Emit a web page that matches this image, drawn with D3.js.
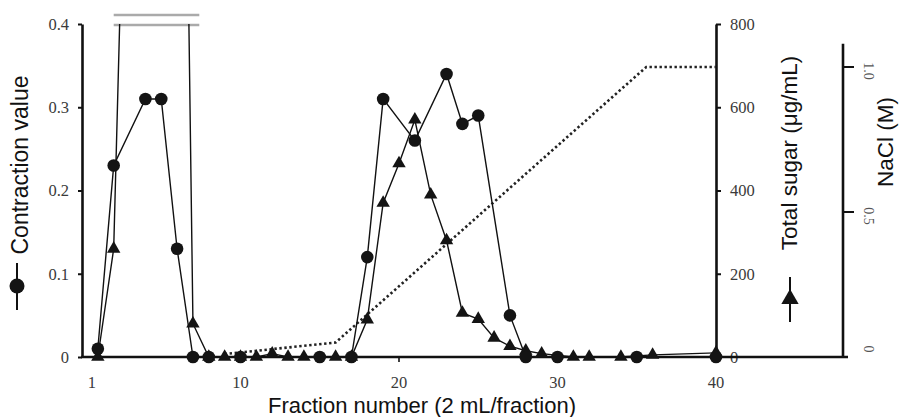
<!DOCTYPE html>
<html>
<head>
<meta charset="utf-8">
<script src="https://cdn.jsdelivr.net/npm/d3@7"></script>
<style>
  html, body { margin: 0; padding: 0; background: #fff; }
  svg { display: block; }
  svg .serif, svg .serif text { font-family: "Liberation Serif", "Times New Roman", "DejaVu Serif", serif !important; }
  svg .sans { font-family: "Liberation Sans", Arial, sans-serif; }
</style>
</head>
<body>
<svg id="chart" width="899" height="417"></svg>
<script>
// Contraction activity of each fraction (filled circles)
const contractionFractions = [1, 2, 4, 5, 6, 7, 8, 10, 15, 17, 18, 19, 21, 23, 24, 25, 27, 28, 30, 35, 40];
const contractionValues    = [0.01, 0.23, 0.31, 0.31, 0.13, 0, 0, 0, 0, 0, 0.12, 0.31, 0.26, 0.34, 0.28, 0.29, 0.05, 0, 0, 0, 0];

// Total sugar of each fraction, µg/mL (filled triangles); fractions 3–6 run off the top of the scale
const sugarFractions = [1, 2, 3, 4, 5, 6, 7, 8, 9, 10, 11, 12, 13, 14, 16, 17, 18, 19, 20, 21, 22, 23, 24, 25, 26, 27, 28, 29, 31, 32, 34, 36, 40];
const sugarValues    = [0, 260, 1700, 2600, 3000, 2900, 80, 0, 0, 0, 0, 8, 0, 0, 0, 0, 90, 370, 465, 570, 390, 280, 106, 91, 46, 26, 15, 8, 0, 0, 0, 5, 10];

// NaCl elution gradient, M (dotted line)
const naclFractions = [9, 16, 35.6, 40];
const naclValues    = [0.01, 0.05, 1.0, 1.0];

// Axis ticks
const xTickValues = [1, 10, 20, 30, 40];
const contractionTicks = [0, 0.1, 0.2, 0.3, 0.4];
const sugarTicks = [0, 200, 400, 600, 800];
const naclTicks = [0, 0.5, 1.0];

// Fractions spanned by the off-scale marker above the first peak
const offScaleRange = [2, 7.4];

const svg = d3.select("#chart");

const x = d3.scaleLinear().domain([0, 40]).range([82, 716]);
const yC = d3.scaleLinear().domain([0, 0.4]).range([357, 24]);
const yS = d3.scaleLinear().domain([0, 800]).range([357, 24]);
const yN = d3.scaleLinear().domain([0, 1.0]).range([357, 67]);

const contraction = contractionFractions.map((f, i) => ({ f, v: contractionValues[i] }));
const sugar = sugarFractions.map((f, i) => ({ f, v: sugarValues[i] }));
const nacl = naclFractions.map((f, i) => ({ f, v: naclValues[i] }));

// Clip the data to the plotting area (values above 0.4 / 800 are cut at the top)
svg.append("defs").append("clipPath").attr("id", "plot-clip")
  .append("rect")
  .attr("x", x(0) - 10).attr("y", yS(800))
  .attr("width", x(40) - x(0) + 20).attr("height", yS(0) - yS(800) + 20);

// ---- Axes ----
const axisStroke = "#111";
const tickFill = "#3a3a3a";

// Left axis: contraction value
const gLeft = svg.append("g").attr("transform", `translate(${x(0)},0)`)
  .call(d3.axisLeft(yC).tickValues(contractionTicks)
    .tickFormat(d => d === 0 ? "0" : d3.format(".1f")(d))
    .tickSize(4).tickSizeOuter(0).tickPadding(9))
  .attr("font-family", null).attr("class", "serif").attr("font-size", 16.5);
gLeft.select(".domain").attr("stroke", axisStroke).attr("stroke-width", 2.6);
gLeft.selectAll(".tick line").attr("stroke", axisStroke).attr("stroke-width", 2);
gLeft.selectAll(".tick text").attr("fill", tickFill);

// Right axis: total sugar
const gRight = svg.append("g").attr("transform", `translate(${x(40)},0)`)
  .call(d3.axisRight(yS).tickValues(sugarTicks)
    .tickSize(5).tickSizeOuter(0).tickPadding(9))
  .attr("font-family", null).attr("class", "serif").attr("font-size", 16.5);
gRight.select(".domain").attr("stroke", axisStroke).attr("stroke-width", 2.6);
gRight.selectAll(".tick line").attr("stroke", axisStroke).attr("stroke-width", 2);
gRight.selectAll(".tick text").attr("fill", tickFill);

// Far-right axis: NaCl concentration, extended slightly above 1.0
const naclX = 843;
const gNacl = svg.append("g").attr("transform", `translate(${naclX},0)`)
  .attr("class", "serif");
gNacl.append("line")
  .attr("x1", 0).attr("x2", 0)
  .attr("y1", yN(1.08)).attr("y2", yN(0) + 1)
  .attr("stroke", axisStroke).attr("stroke-width", 2.6);
const naclTick = gNacl.selectAll("g.tick").data(naclTicks).enter().append("g")
  .attr("transform", d => `translate(0,${yN(d)})`);
naclTick.filter(d => d > 0).append("line")
  .attr("x1", 0).attr("x2", 11)
  .attr("stroke", axisStroke).attr("stroke-width", 2);
naclTick.append("text")
  .attr("transform", d => `translate(21,${d === 0 ? -8 : 4}) rotate(90)`)
  .attr("text-anchor", "middle")
  .attr("font-size", 14)
  .attr("fill", "#555")
  .text(d => d === 0 ? "0" : d3.format(".1f")(d));

// Bottom axis: fraction number, running across to the NaCl axis
const gBottom = svg.append("g").attr("class", "serif");
gBottom.append("line")
  .attr("x1", x(0) - 1).attr("x2", naclX + 5)
  .attr("y1", yC(0)).attr("y2", yC(0))
  .attr("stroke", axisStroke).attr("stroke-width", 2.6);
const xt = gBottom.selectAll("g.tick").data(xTickValues).enter().append("g")
  .attr("transform", d => `translate(${x(d)},${yC(0)})`);
xt.filter(d => d !== 1 && d !== 40).append("line")
  .attr("y1", 0).attr("y2", 5)
  .attr("stroke", axisStroke).attr("stroke-width", 1.6);
xt.append("text")
  .attr("x", d => d === 1 ? -6 : 0)
  .attr("y", 31)
  .attr("text-anchor", "middle")
  .attr("font-size", 16.5)
  .attr("fill", tickFill)
  .text(d => d);

// ---- Off-scale marker (double rule above the first peak) ----
[yS(800) + 1, yS(800) - 9].forEach(yy => {
  svg.append("line")
    .attr("x1", x(offScaleRange[0])).attr("x2", x(offScaleRange[1]))
    .attr("y1", yy).attr("y2", yy)
    .attr("stroke", "#aaa").attr("stroke-width", 2.5);
});

// ---- Data ----
const plot = svg.append("g").attr("clip-path", "url(#plot-clip)");

// NaCl gradient
plot.append("path")
  .datum(nacl)
  .attr("fill", "none")
  .attr("stroke", "#222")
  .attr("stroke-width", 2.6)
  .attr("stroke-dasharray", "2.4 2.6")
  .attr("d", d3.line().x(d => x(d.f)).y(d => yN(d.v)));

// Total sugar line + triangles
plot.append("path")
  .datum(sugar)
  .attr("fill", "none")
  .attr("stroke", "#111")
  .attr("stroke-width", 1.4)
  .attr("d", d3.line().x(d => x(d.f)).y(d => yS(d.v)));

// Contraction line + circles
plot.append("path")
  .datum(contraction)
  .attr("fill", "none")
  .attr("stroke", "#111")
  .attr("stroke-width", 1.4)
  .attr("d", d3.line().x(d => x(d.f)).y(d => yC(d.v)));

const tri = d3.symbol().type(d3.symbolTriangle).size(78);
plot.selectAll("path.tri").data(sugar).enter().append("path")
  .attr("class", "tri")
  .attr("transform", d => `translate(${x(d.f)},${yS(d.v)})`)
  .attr("d", tri)
  .attr("fill", "#141414");

plot.selectAll("circle.pt").data(contraction).enter().append("circle")
  .attr("class", "pt")
  .attr("cx", d => x(d.f)).attr("cy", d => yC(d.v))
  .attr("r", 6.3)
  .attr("fill", "#141414");

// ---- Axis titles with series keys ----
svg.append("text").attr("class", "sans")
  .attr("transform", "translate(28,165) rotate(-90)")
  .attr("text-anchor", "middle")
  .attr("fill", "#111")
  .attr("font-size", 23)
  .text("Contraction value");

// circle key
const keyC = svg.append("g").attr("transform", "translate(17,286)");
keyC.append("line").attr("y1", -23).attr("y2", 24).attr("stroke", "#111").attr("stroke-width", 2);
keyC.append("circle").attr("r", 7.5).attr("fill", "#141414");

svg.append("text").attr("class", "sans")
  .attr("transform", "translate(797,153) rotate(-90)")
  .attr("text-anchor", "middle")
  .attr("fill", "#111")
  .attr("font-size", 22.5)
  .text("Total sugar (\u03bcg/mL)");

// triangle key
const keyS = svg.append("g").attr("transform", "translate(790,299)");
keyS.append("line").attr("y1", -22).attr("y2", 23).attr("stroke", "#111").attr("stroke-width", 2);
keyS.append("path").attr("d", d3.symbol().type(d3.symbolTriangle).size(130)).attr("fill", "#141414");

svg.append("text").attr("class", "sans")
  .attr("transform", "translate(893,142) rotate(-90)")
  .attr("text-anchor", "middle")
  .attr("fill", "#111")
  .attr("font-size", 22.5)
  .text("NaCl (M)");

svg.append("text").attr("class", "sans")
  .attr("x", 422).attr("y", 413)
  .attr("text-anchor", "middle")
  .attr("fill", "#111")
  .attr("font-size", 22)
  .text("Fraction number (2 mL/fraction)");
</script>
</body>
</html>
